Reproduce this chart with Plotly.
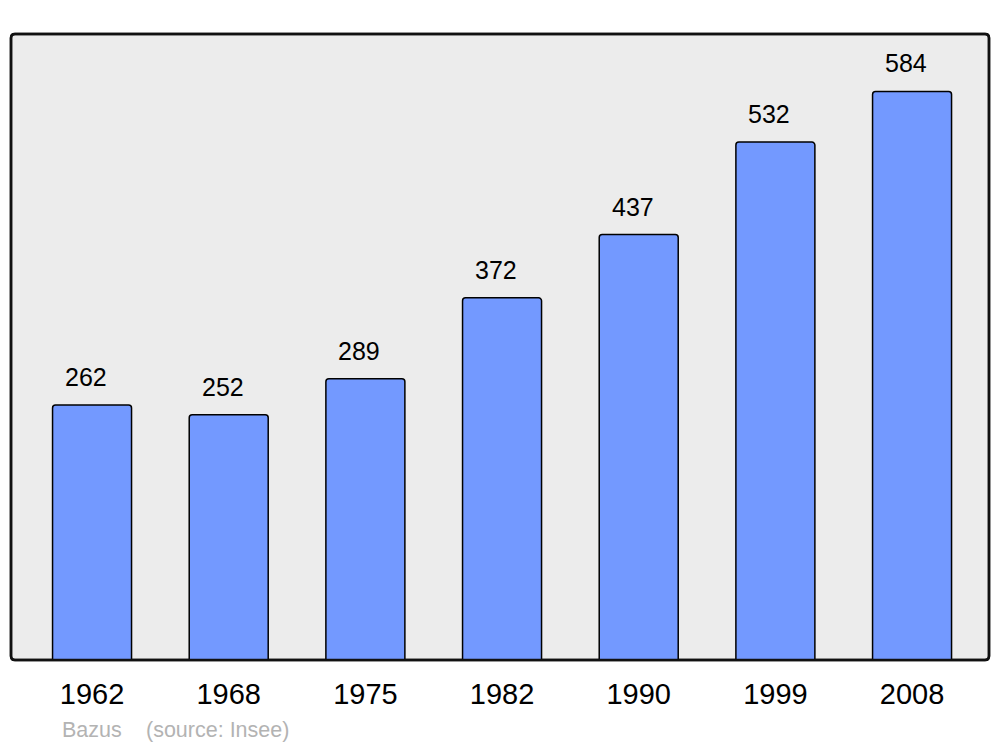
import plotly.graph_objects as go

years = ["1962", "1968", "1975", "1982", "1990", "1999", "2008"]
population = [262, 252, 289, 372, 437, 532, 584]
credit_author = "Bazus"
credit_source = "(source: Insee)"

W, H = 1000, 747
L, R, T, B = 11, 11, 34, 87
pw, ph = W - L - R, H - T - B
FONT = "Liberation Sans, Arial, sans-serif"

idx = list(range(len(years)))

fig = go.Figure()
fig.add_trace(go.Bar(
    x=idx, y=population, width=0.578,
    marker=dict(color="#7399ff", line=dict(color="#000000", width=1.5), cornerradius=3),
    hoverinfo="skip",
))

for i, v in zip(idx, population):
    fig.add_annotation(x=i, y=v, text=str(v), showarrow=False, yanchor="bottom",
                       yshift=12, xshift=-6,
                       font=dict(size=25, color="#000000", family=FONT))

# rounded plot frame
rx, ry = 4 / pw, 4 / ph
path = (f"M {rx},0 L {1-rx},0 Q 1,0 1,{ry} L 1,{1-ry} Q 1,1 {1-rx},1 "
        f"L {rx},1 Q 0,1 0,{1-ry} L 0,{ry} Q 0,0 {rx},0 Z")
fig.add_shape(type="path", path=path, xref="paper", yref="paper",
              fillcolor="#ececec", line=dict(color="#111111", width=2.5), layer="below")
fig.add_shape(type="path", path=path, xref="paper", yref="paper",
              fillcolor="rgba(0,0,0,0)", line=dict(color="#111111", width=2.5), layer="above")

cy = -(730 - T - ph) / ph
fig.add_annotation(x=(60 - L) / pw, y=cy, xref="paper", yref="paper",
                   text=credit_author, showarrow=False, xanchor="left", yanchor="middle",
                   font=dict(size=21.5, color="#b3b3b3", family=FONT))
fig.add_annotation(x=(144 - L) / pw, y=cy, xref="paper", yref="paper",
                   text=credit_source, showarrow=False, xanchor="left", yanchor="middle",
                   font=dict(size=21.5, color="#b3b3b3", family=FONT))

fig.update_layout(
    width=W, height=H,
    margin=dict(l=L, r=R, t=T, b=B),
    paper_bgcolor="#ffffff", plot_bgcolor="rgba(0,0,0,0)",
    showlegend=False,
    font=dict(family=FONT, color="#000000"),
    xaxis=dict(range=[-0.593, 6.563], tickmode="array", tickvals=idx, ticktext=years,
               showgrid=False, zeroline=False, showline=False, ticks="",
               ticklabelstandoff=14,
               tickfont=dict(size=29, color="#000000"), fixedrange=True),
    yaxis=dict(range=[0, 643], showgrid=False, zeroline=False, showline=False,
               showticklabels=False, ticks="", fixedrange=True),
)

fig.write_html("out.html", config={"displayModeBar": False},
               post_script="document.body.style.margin='0';document.body.style.overflow='hidden';")
